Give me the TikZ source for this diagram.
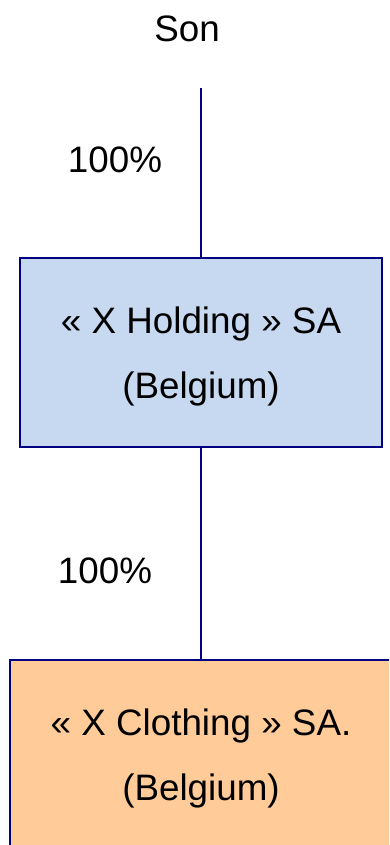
\documentclass[tikz,border=0pt]{standalone}
\usepackage{fontspec}
\setmainfont{Liberation Sans}
\definecolor{navyline}{RGB}{0,0,128}
\definecolor{holdfill}{RGB}{198,217,240}
\definecolor{clothfill}{RGB}{255,204,153}
\newcommand\bigtext{\fontsize{36.8}{65}\selectfont}
\newcommand\toproom{\rule{0pt}{35pt}}
\begin{document}
\begin{tikzpicture}[x=1pt,y=-1pt,
  entity/.style={draw=navyline, line width=2pt, minimum width=362pt,
    minimum height=189pt, inner sep=0pt, align=center, font=\bigtext},
  tie/.style={draw=navyline, line width=2pt},
  lbl/.style={font=\bigtext, inner sep=0pt, anchor=base}]
\useasboundingbox (0,0) rectangle (389,845);
\clip (0,0) rectangle (389,845);

% owner and shareholding labels
\node[lbl] (son) at (187,42) {Son};
\coordinate (top) at (201,88);
\node[lbl] (p1) at (115,172) {100\%};
\node[lbl] (p2) at (105,583) {100\%};

% companies
\node[entity, fill=holdfill] (hold) at (201,352.5)
  {\toproom« X Holding » SA\\(Belgium)};
\node[entity, fill=clothfill, minimum width=382pt] (cloth) at (201,754.5)
  {\toproom« X Clothing » SA.\\(Belgium)};

% ownership links
\draw[tie] (top) -- (hold.north);
\draw[tie] (hold.south) -- (cloth.north);
\end{tikzpicture}
\end{document}
